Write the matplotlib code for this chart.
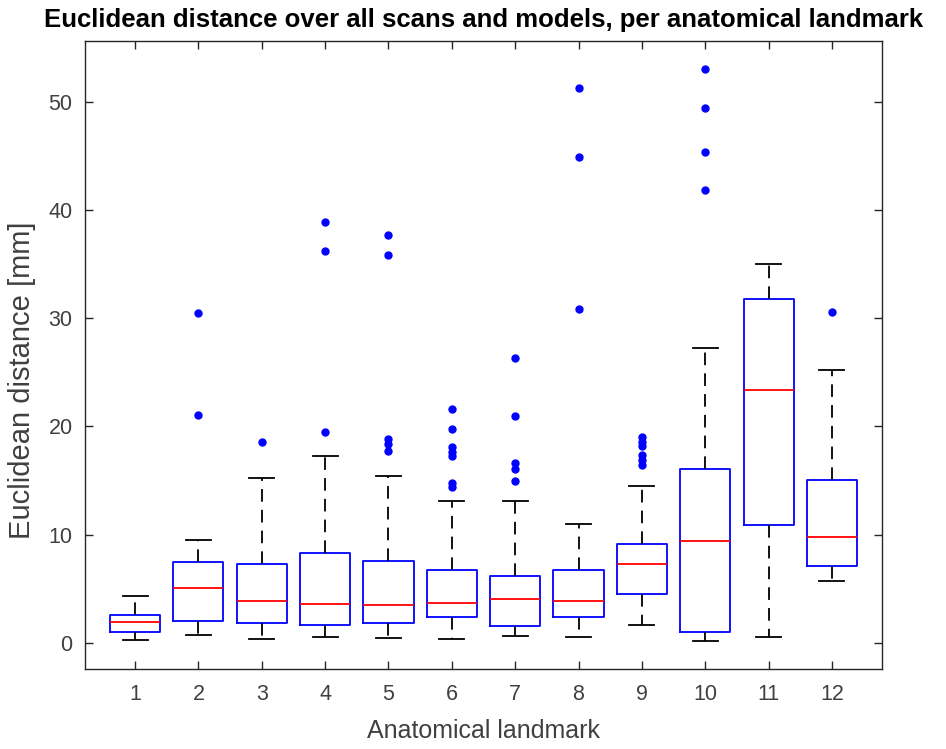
import matplotlib
matplotlib.use("Agg")
import matplotlib.pyplot as plt

# values (Euclidean distance in mm)
landmarks = [1, 2, 3, 4, 5, 6, 7, 8, 9, 10, 11, 12]
whis_lo = [0.28, 0.77, 0.34, 0.52, 0.46, 0.34, 0.61, 0.55, 1.69, 0.15, 0.52, 5.69]
q1 = [1.02, 2.03, 1.81, 1.66, 1.85, 2.40, 1.53, 2.40, 4.52, 1.02, 10.9, 7.11]
medians = [1.94, 5.08, 3.90, 3.63, 3.51, 3.72, 4.06, 3.88, 7.29, 9.38, 23.33, 9.75]
q3 = [2.61, 7.44, 7.32, 8.31, 7.60, 6.74, 6.21, 6.74, 9.10, 16.07, 31.76, 15.05]
whis_hi = [4.37, 9.51, 15.23, 17.30, 15.45, 13.08, 13.08, 10.99, 14.52, 27.24, 35.0, 25.17]
outliers = [
    [],
    [30.5, 21.1],
    [18.56],
    [38.84, 36.22, 19.48],
    [37.64, 35.79, 18.8, 18.4, 17.7],
    [21.63, 19.76, 18.1, 17.6, 17.3, 14.8, 14.4],
    [26.34, 20.93, 16.6, 16.1, 15.0],
    [51.25, 44.93, 30.84],
    [19.0, 18.6, 18.2, 17.4, 16.9, 16.4],
    [53.03, 49.43, 45.37, 41.8],
    [],
    [30.59],
]

plt.rcParams['font.family'] = ['Liberation Sans', 'DejaVu Sans']
TXT = '#404040'

fig = plt.figure(figsize=(9.46, 7.49), dpi=100)
ax = fig.add_axes([0.0899, 0.1068, 0.8424, 0.8385])

stats = []
for i in range(len(landmarks)):
    stats.append({
        'med': medians[i], 'q1': q1[i], 'q3': q3[i],
        'whislo': whis_lo[i], 'whishi': whis_hi[i],
        'fliers': outliers[i], 'label': str(landmarks[i]),
    })

ax.bxp(stats, positions=landmarks, widths=0.79,
       boxprops=dict(color='#0000ff', linewidth=1.3),
       medianprops=dict(color='#ff0000', linewidth=1.3),
       whiskerprops=dict(color='black', linestyle=(0, (7, 4.5)), linewidth=1.3),
       capprops=dict(color='black', linewidth=1.3),
       flierprops=dict(marker='o', markerfacecolor='#0000ff', markeredgecolor='#0000ff',
                       markersize=5, linestyle='none'))

ax.set_xlim(0.21, 12.79)
ax.set_ylim(-2.4, 55.6)
ax.set_yticks([0, 10, 20, 30, 40, 50])
ax.set_xticks(landmarks)
ax.set_xticklabels([str(l) for l in landmarks])

ax.tick_params(direction='in', length=6, width=1, top=True, right=True,
               labelsize=15.5, colors='#262626', labelcolor=TXT)
ax.tick_params(axis='x', pad=11)
ax.tick_params(axis='y', pad=9)
for sp in ax.spines.values():
    sp.set_color('#262626')
    sp.set_linewidth(1)

ax.set_xlabel('Anatomical landmark', fontsize=18, color=TXT, labelpad=10)
ax.set_ylabel('Euclidean distance [mm]', fontsize=21, color=TXT)
ax.yaxis.set_label_coords(-0.061, 0.46)
ax.set_title('Euclidean distance over all scans and models, per anatomical landmark',
             fontsize=18.5, fontweight='bold', pad=10)

fig.savefig('out.png', dpi=100)
